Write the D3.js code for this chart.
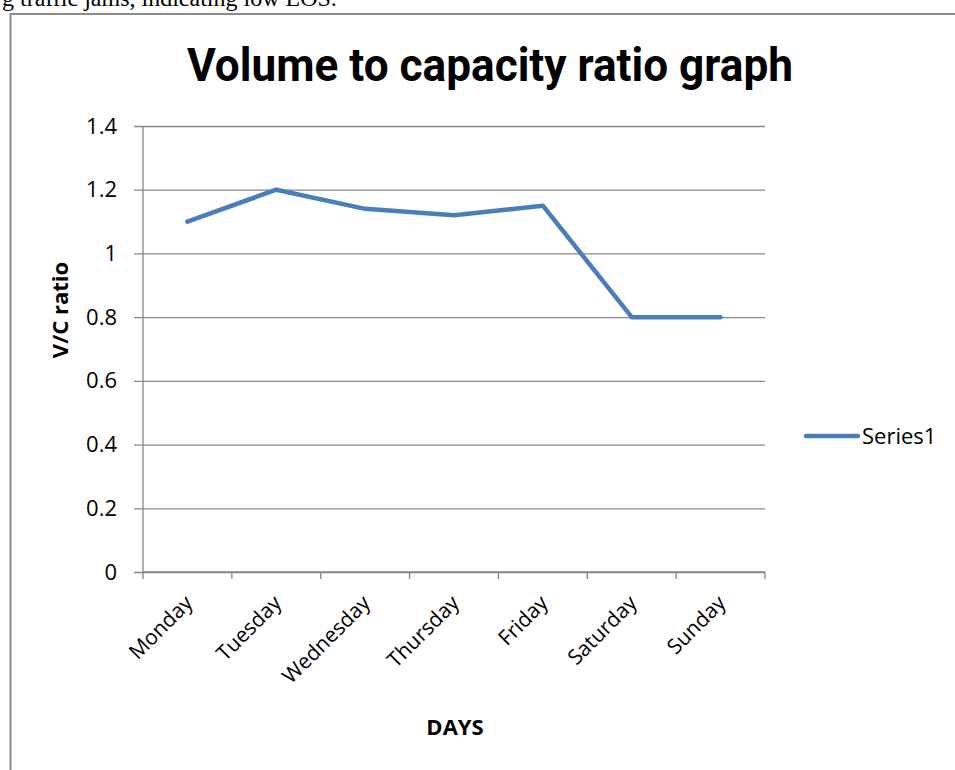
<!DOCTYPE html>
<head>
  <meta charset="utf-8">
  <script src="https://d3js.org/d3.v7.min.js"></script>
  <style>
    body { margin:0; padding:0; background:#fff; }
    text { font-family: "Open Sans", "DejaVu Sans", sans-serif; fill:#000; }
  </style>
</head>
<body>
  <script>
    // data
    var days = ["Monday", "Tuesday", "Wednesday", "Thursday", "Friday", "Saturday", "Sunday"];
    var vcRatio = [1.1, 1.2, 1.14, 1.12, 1.15, 0.8, 0.8];
    var yTicks = [0, 0.2, 0.4, 0.6, 0.8, 1, 1.2, 1.4];
    var seriesName = "Series1";

    var width = 955, height = 770;
    var plot = {left:143, right:765, top:126, bottom:572};

    var svg = d3.select("body").append("svg")
      .attr("width", width).attr("height", height);

    // cut-off text line from the page above the chart
    svg.append("text")
      .attr("x", 2).attr("y", 6)
      .style("font-family", "'Liberation Serif', serif")
      .style("font-size", "24px")
      .text("g traffic jams, indicating low LOS.");

    // chart border
    svg.append("rect")
      .attr("x", 10.5).attr("y", 14).attr("width", 960).attr("height", 800)
      .style("fill", "none").style("stroke", "#8c8c8c").style("stroke-width", 2);

    var x = d3.scaleBand().domain(days).range([plot.left, plot.right]);
    var y = d3.scaleLinear().domain([0, 1.4]).range([plot.bottom, plot.top]);

    // gridlines + y axis
    var yAxis = d3.axisLeft(y).tickValues(yTicks)
      .tickSize(-(plot.right - plot.left))
      .tickPadding(26)
      .tickFormat(function(d) { return d3.format("")(+d.toFixed(1)); });
    var gy = svg.append("g").attr("transform", "translate(" + plot.left + ",0)").call(yAxis);
    gy.select(".domain").remove();
    gy.selectAll("line").attr("x1", -9).style("stroke", "#868686").style("stroke-width", 1.3);
    gy.selectAll("text").style("font-size", "22px").style("font-family", "'Open Sans', sans-serif");

    // y axis line
    svg.append("line")
      .attr("x1", plot.left).attr("x2", plot.left)
      .attr("y1", plot.top).attr("y2", plot.bottom)
      .style("stroke", "#868686").style("stroke-width", 1.3);

    // x axis
    var gx = svg.append("g").attr("transform", "translate(0," + plot.bottom + ")");
    gx.append("line")
      .attr("x1", plot.left).attr("x2", plot.right)
      .style("stroke", "#868686").style("stroke-width", 1.3);
    var bounds = days.map(function(d) { return x(d); }).concat([plot.right]);
    gx.selectAll(".tk").data(bounds).enter().append("line")
      .attr("x1", function(d) { return d; }).attr("x2", function(d) { return d; })
      .attr("y1", 0).attr("y2", 7)
      .style("stroke", "#868686").style("stroke-width", 1.3);
    gx.selectAll(".lbl").data(days).enter().append("text")
      .attr("transform", function(d) {
        return "translate(" + (x(d) + x.bandwidth() / 2 - 4) + ",22) rotate(-45)";
      })
      .attr("text-anchor", "end")
      .attr("dy", "0.7em")
      .style("font-size", "21px")
      .text(function(d) { return d; });

    // line
    var line = d3.line()
      .x(function(d, i) { return x(days[i]) + x.bandwidth() / 2; })
      .y(function(d) { return y(d); });
    svg.append("path")
      .datum(vcRatio)
      .attr("d", line)
      .style("fill", "none").style("stroke", "#4a7ebb")
      .style("stroke-width", 4.5).style("stroke-linecap", "round").style("stroke-linejoin", "round");

    // title
    svg.append("text")
      .attr("x", 490).attr("y", 81)
      .attr("text-anchor", "middle")
      .attr("textLength", 606).attr("lengthAdjust", "spacingAndGlyphs")
      .style("font-family", "Roboto, sans-serif")
      .style("font-weight", "bold").style("font-size", "46px")
      .text("Volume to capacity ratio graph");

    // axis titles
    svg.append("text")
      .attr("transform", "translate(68,310) rotate(-90)")
      .attr("text-anchor", "middle")
      .style("font-weight", "bold").style("font-size", "22px")
      .text("V/C ratio");
    svg.append("text")
      .attr("x", 455).attr("y", 735)
      .attr("text-anchor", "middle")
      .style("font-weight", "bold").style("font-size", "22px")
      .text("DAYS");

    // legend
    svg.append("line")
      .attr("x1", 806).attr("x2", 858).attr("y1", 436).attr("y2", 436)
      .style("stroke", "#4a7ebb").style("stroke-width", 4.5).style("stroke-linecap", "round");
    svg.append("text")
      .attr("x", 862).attr("y", 436).attr("dy", "0.35em")
      .style("font-size", "22px")
      .text(seriesName);
  </script>
</body>
